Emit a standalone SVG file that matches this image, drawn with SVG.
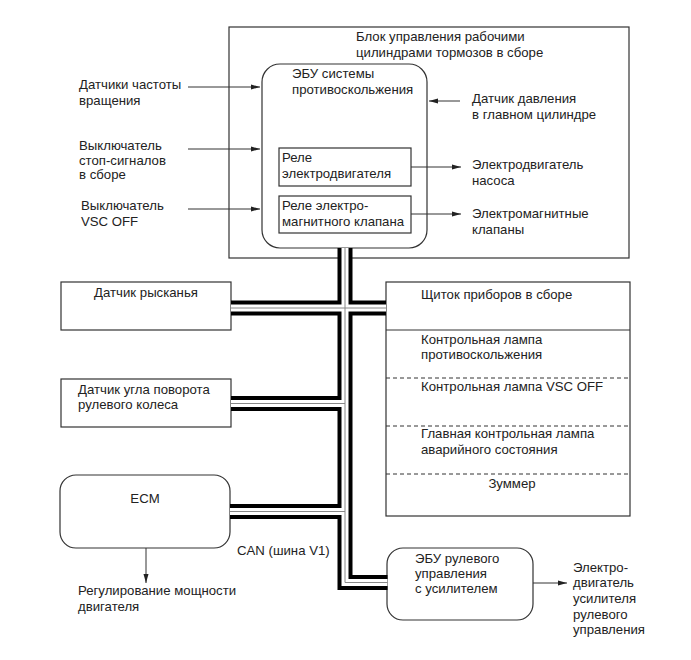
<svg xmlns="http://www.w3.org/2000/svg" width="691" height="660" viewBox="0 0 691 660">
<style>
text{font-family:"Liberation Sans",Arial,sans-serif;font-size:13.2px;fill:#222}
.box{fill:#fff;stroke:#333;stroke-width:1.2}
.ln{fill:none;stroke:#333;stroke-width:1}
.dash{fill:none;stroke:#333;stroke-width:1;stroke-dasharray:4,3}
.busB{fill:none;stroke:#000;stroke-width:15}
.busW{fill:none;stroke:#fff;stroke-width:7}
.busG{fill:none;stroke:#888;stroke-width:1}
</style>
<defs>
<marker id="ah" markerWidth="9" markerHeight="6" refX="9" refY="3" orient="auto" markerUnits="userSpaceOnUse">
<path d="M0,0.5 L9,3 L0,5.5 Z" fill="#222"/>
</marker>
</defs>
<rect width="691" height="660" fill="#fff"/>

<g id="brake-actuator">
<rect class="box" x="229" y="27" width="400" height="231"/>
<text x="356" y="41">Блок управления рабочими</text>
<text x="356" y="57">цилиндрами тормозов в сборе</text>
</g>

<g id="skid-ecu">
<rect class="box" x="262" y="64" width="165" height="184" rx="18"/>
<text x="292" y="78">ЭБУ системы</text>
<text x="292" y="94">противоскольжения</text>
</g>

<g id="motor-relay">
<rect class="box" x="279" y="148" width="132" height="38"/>
<text x="282" y="162">Реле</text>
<text x="282" y="178">электродвигателя</text>
</g>

<g id="solenoid-relay">
<rect class="box" x="279" y="196" width="132" height="37"/>
<text x="282" y="210">Реле электро-</text>
<text x="282" y="226">магнитного клапана</text>
</g>

<g id="speed-sensors">
<text x="79" y="89">Датчики частоты</text>
<text x="79" y="105">вращения</text>
</g>
<g id="stop-switch">
<text x="79" y="150">Выключатель</text>
<text x="79" y="165">стоп-сигналов</text>
<text x="79" y="179">в сборе</text>
</g>
<g id="vsc-switch">
<text x="81" y="210">Выключатель</text>
<text x="81" y="226">VSC OFF</text>
</g>
<g id="master-cyl-sensor">
<text x="472" y="103">Датчик давления</text>
<text x="472" y="119">в главном цилиндре</text>
</g>
<g id="pump-motor">
<text x="472" y="169">Электродвигатель</text>
<text x="472" y="185">насоса</text>
</g>
<g id="solenoids">
<text x="472" y="218">Электромагнитные</text>
<text x="472" y="234">клапаны</text>
</g>

<g id="yaw-sensor">
<rect class="box" x="61" y="282" width="170" height="48"/>
<text x="146" y="297" text-anchor="middle">Датчик рысканья</text>
</g>

<g id="steering-sensor">
<rect class="box" x="61" y="379" width="170" height="48"/>
<text x="78" y="394">Датчик угла поворота</text>
<text x="78" y="409">рулевого колеса</text>
</g>

<g id="ecm">
<rect class="box" x="60" y="475" width="170" height="73" rx="16"/>
<text x="145" y="503" text-anchor="middle">ECM</text>
</g>
<g id="engine-power">
<text x="78" y="595">Регулирование мощности</text>
<text x="78" y="611">двигателя</text>
</g>

<g id="combination-meter">
<rect class="box" x="386" y="282" width="244" height="234"/>
<line class="ln" x1="386" y1="330" x2="630" y2="330"/>
<line class="dash" x1="386" y1="378" x2="630" y2="378"/>
<line class="dash" x1="386" y1="426" x2="630" y2="426"/>
<line class="dash" x1="386" y1="474" x2="630" y2="474"/>
<text x="421" y="299">Щиток приборов в сборе</text>
<text x="421" y="344">Контрольная лампа</text>
<text x="421" y="359">противоскольжения</text>
<text x="421" y="391">Контрольная лампа VSC OFF</text>
<text x="421" y="438">Главная контрольная лампа</text>
<text x="421" y="454">аварийного состояния</text>
<text x="512" y="488" text-anchor="middle">Зуммер</text>
</g>

<g id="eps-ecu">
<rect class="box" x="387" y="548" width="146" height="72" rx="16"/>
<text x="415" y="563">ЭБУ рулевого</text>
<text x="415" y="578">управления</text>
<text x="415" y="593">с усилителем</text>
</g>
<g id="eps-motor">
<text x="573" y="572">Электро-</text>
<text x="573" y="587">двигатель</text>
<text x="573" y="603">усилителя</text>
<text x="573" y="619">рулевого</text>
<text x="573" y="634">управления</text>
</g>

<text x="237" y="555">CAN (шина V1)</text>

<g id="connectors">
<line class="ln" x1="188" y1="87" x2="260" y2="87" marker-end="url(#ah)"/>
<line class="ln" x1="188" y1="149" x2="260" y2="149" marker-end="url(#ah)"/>
<line class="ln" x1="188" y1="209" x2="260" y2="209" marker-end="url(#ah)"/>
<line class="ln" x1="460" y1="101" x2="429" y2="101" marker-end="url(#ah)"/>
<line class="ln" x1="411" y1="167" x2="461" y2="167" marker-end="url(#ah)"/>
<line class="ln" x1="411" y1="214" x2="461" y2="214" marker-end="url(#ah)"/>
<line class="ln" x1="146" y1="548" x2="146" y2="583" marker-end="url(#ah)"/>
<line class="ln" x1="533" y1="583" x2="567" y2="583" marker-end="url(#ah)"/>
<g id="can-bus">
<path class="busB" d="M345,248 V582.5 H387.5 M231,308 H386 M231,403.5 H345 M230,511.5 H345"/>
<path class="busW" d="M345,248 V582.5 H387.5 M231,308 H386 M231,403.5 H345 M230,511.5 H345"/>
<path class="busG" d="M345,248 V582.5 H387.5 M231,308 H386 M231,403.5 H345 M230,511.5 H345"/>
</g>
</g>
</svg>
